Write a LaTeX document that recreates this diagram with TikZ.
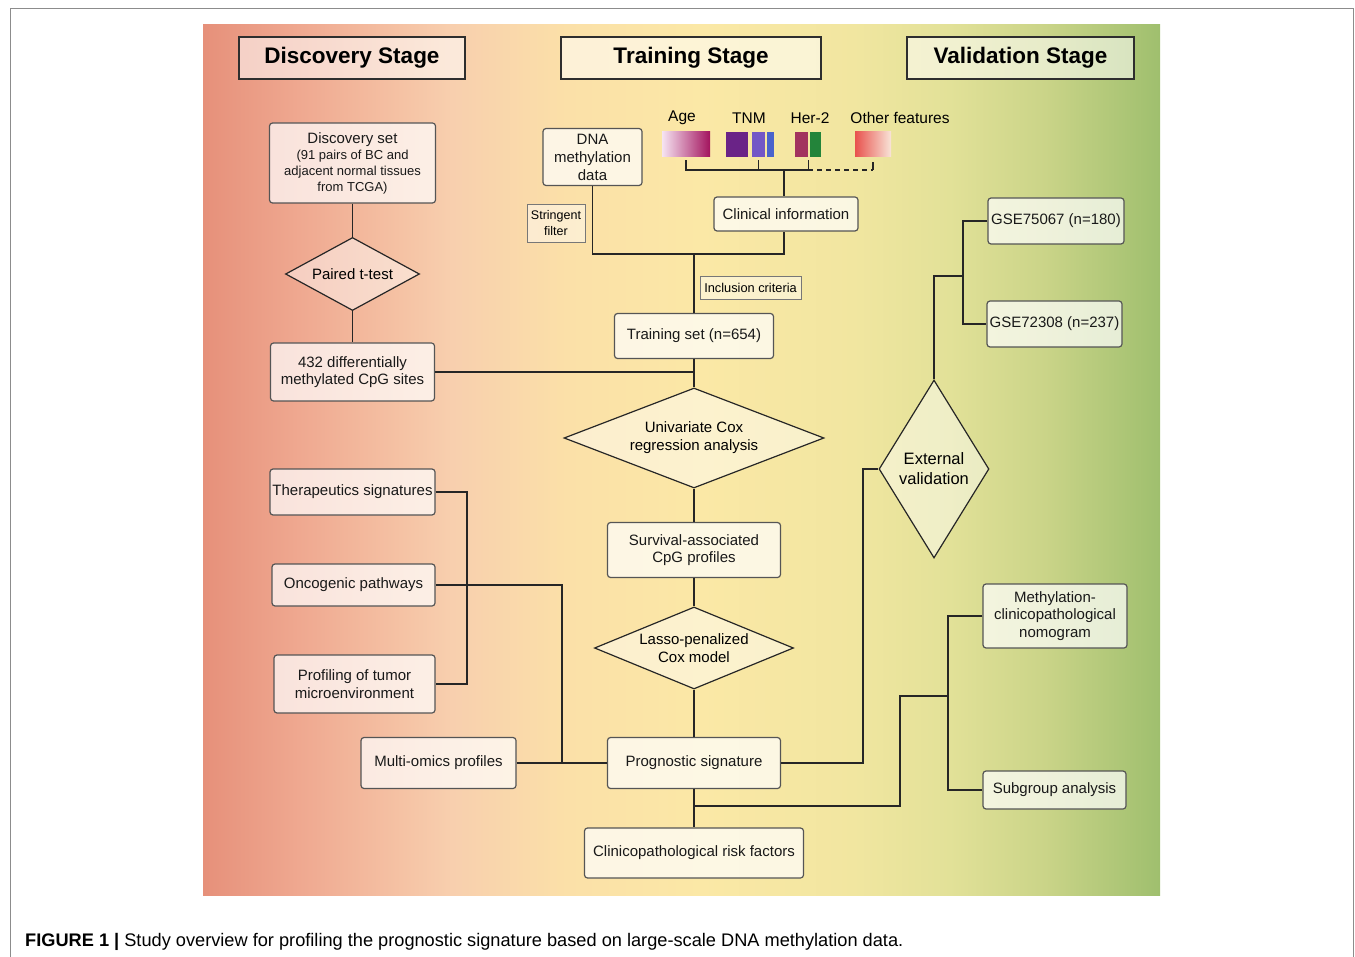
\documentclass[tikz,border=0pt]{standalone}
\usepackage{fontspec}
\setmainfont{Liberation Sans}
\usetikzlibrary{positioning, shapes.geometric}
\definecolor{clrLine}{HTML}{262626}
\definecolor{clrBorder}{HTML}{555555}
\definecolor{clrHead}{HTML}{2E2E2E}
\definecolor{clrFrame}{HTML}{8C8C8C}
\definecolor{bgA}{HTML}{E6907A}
\definecolor{bgB}{HTML}{EFA890}
\definecolor{bgC}{HTML}{F8CFAE}
\definecolor{bgD}{HTML}{FBE0A8}
\definecolor{bgE}{HTML}{FBE8A6}
\definecolor{bgF}{HTML}{F1E6A0}
\definecolor{bgG}{HTML}{E2E198}
\definecolor{bgH}{HTML}{CAD488}
\definecolor{bgI}{HTML}{9FBF6E}
\definecolor{clrAgeA}{HTML}{F6E4F2}
\definecolor{clrAgeB}{HTML}{A3145E}
\definecolor{clrTnmA}{HTML}{6A2387}
\definecolor{clrTnmB}{HTML}{7357C6}
\definecolor{clrTnmC}{HTML}{4A63CC}
\definecolor{clrHerA}{HTML}{A2335E}
\definecolor{clrHerB}{HTML}{23843A}
\definecolor{clrOtherA}{HTML}{E8524D}
\definecolor{clrOtherB}{HTML}{F8E4D8}
\pgfdeclarehorizontalshading{stagebg}{100bp}{color(0bp)=(bgA); color(25bp)=(bgA);
  color(30bp)=(bgB); color(38bp)=(bgC); color(44bp)=(bgD); color(51bp)=(bgE);
  color(59bp)=(bgF); color(64bp)=(bgG); color(69bp)=(bgH); color(75bp)=(bgI);
  color(100bp)=(bgI)}

\begin{document}
\begin{tikzpicture}[
  x=1pt, y=-1pt,
  stage/.style = {
    rectangle,
    draw=clrHead,
    line width=2pt,
    fill=white, fill opacity=0.55, text opacity=1,
    minimum height=42,
    font=\bfseries\fontsize{22.5}{26}\selectfont
  },
  box/.style = {
    rectangle,
    rounded corners=3pt,
    draw=clrBorder,
    line width=1.2pt,
    fill=white, fill opacity=0.7, text opacity=1,
    align=center,
    inner sep=1pt,
    text=black!90,
    font=\fontsize{15}{17.5}\selectfont
  },
  note/.style = {
    rectangle,
    draw=clrBorder!80,
    line width=0.8pt,
    fill=white, fill opacity=0.45, text opacity=1,
    align=center,
    inner sep=1pt,
    font=\fontsize{12.8}{15}\selectfont
  },
  decision/.style = {
    diamond,
    draw=clrLine,
    line width=1.2pt,
    fill=white, fill opacity=0.45, text opacity=1,
    align=center,
    inner sep=0pt,
    font=\fontsize{15}{18}\selectfont
  },
  bar/.style = {
    rectangle,
    inner sep=0pt,
    minimum height=25
  },
  tag/.style = {
    inner sep=0pt,
    font=\fontsize{15.5}{17}\selectfont
  },
  link/.style = {
    draw=clrLine,
    line width=1.4pt
  }
]
\useasboundingbox (0,0) rectangle (1355,957);

% ── frame and background ─────────────────────────────────────────────────────
\draw[clrFrame, line width=0.8pt] (10,957) -- (10,8) -- (1353,8) -- (1353,957);
\shade[shading=stagebg] (203,25) rectangle (1160,895);

% ── stage headers ────────────────────────────────────────────────────────────
\node[stage, minimum width=226] (discH)  at (352,58)    {Discovery Stage};
\node[stage, minimum width=260] (trainH) at (691,58)    {Training Stage};
\node[stage, minimum width=227] (validH) at (1020.5,58) {Validation Stage};

% ── discovery stage ──────────────────────────────────────────────────────────
\node[box, minimum width=166, minimum height=80, font=\fontsize{15}{16}\selectfont] (discset) at (352.5,163)
  {Discovery set\\
   \fontsize{13}{16}\selectfont (91 pairs of BC and\\
   \fontsize{13}{16}\selectfont adjacent normal tissues\\
   \fontsize{13}{16}\selectfont from TCGA)};
\node[decision, aspect=1.8, minimum width=134, minimum height=73] (ttest) at (352.5,274)
  {Paired t-test};
\node[box, minimum width=164, minimum height=58] (cpg) at (352.5,372)
  {432 differentially\\methylated CpG sites};

\node[box, minimum width=165, minimum height=46] (thera) at (352.5,492) {Therapeutics signatures};
\node[box, minimum width=163, minimum height=42] (onco)  at (353.5,585) {Oncogenic pathways};
\node[box, minimum width=161, minimum height=58] (prof)  at (354.5,684)
  {Profiling of tumor\\microenvironment};
\node[box, minimum width=155, minimum height=51] (multi) at (438.5,763) {Multi-omics profiles};

% ── training stage ───────────────────────────────────────────────────────────
\node[box, minimum width=99, minimum height=57, font=\fontsize{15}{18}\selectfont] (dna) at (592.5,157)
  {DNA\\methylation\\data};
\node[note, minimum width=58, minimum height=38, font=\fontsize{12.5}{15.5}\selectfont] (filter) at (556,223)
  {Stringent\\filter};

\node[tag] (ageT)   at (682,118) {Age};
\node[tag] (tnmT)   at (749,118) {TNM};
\node[tag] (herT)   at (810,118) {Her-2};
\node[tag] (otherT) at (900,118) {Other features};

\node[bar, minimum width=48, left color=clrAgeA, right color=clrAgeB] (ageBar) at (686,144.5) {};
\node[bar, minimum width=22, fill=clrTnmA] (tnmA) at (737,144.5) {};
\node[bar, minimum width=13, fill=clrTnmB] (tnmB) at (758.5,144.5) {};
\node[bar, minimum width=7,  fill=clrTnmC] (tnmC) at (770.5,144.5) {};
\node[bar, minimum width=13, fill=clrHerA] (herA) at (801.5,144.5) {};
\node[bar, minimum width=11, fill=clrHerB] (herB) at (815.5,144.5) {};
\node[bar, minimum width=36, left color=clrOtherA, right color=clrOtherB] (otherBar) at (873,144.5) {};

\node[box, minimum width=144, minimum height=34] (clinical) at (786,214) {Clinical information};
\node[note, minimum width=101, minimum height=23] (incl) at (750.5,287.5) {Inclusion criteria};
\node[box, minimum width=159, minimum height=45] (train) at (694,336) {Training set (n=654)};

\node[decision, aspect=2.6, minimum width=260, minimum height=100] (unicox) at (694,438)
  {Univariate Cox\\regression analysis};
\node[box, minimum width=173, minimum height=55] (surv) at (694,550)
  {Survival-associated\\CpG profiles};
\node[decision, aspect=2.4, minimum width=199, minimum height=82] (lasso) at (694,648)
  {Lasso-penalized\\Cox model};
\node[box, minimum width=173, minimum height=51] (prog) at (694,763) {Prognostic signature};
\node[box, minimum width=219, minimum height=50] (risk) at (694,853) {Clinicopathological risk factors};

% ── validation stage ─────────────────────────────────────────────────────────
\node[decision, aspect=0.6, minimum width=110, minimum height=178, font=\fontsize{16.5}{20}\selectfont] (ext) at (934,469)
  {External\\validation};
\node[box, minimum width=136, minimum height=46] (gseA) at (1056,221)   {GSE75067 (n=180)};
\node[box, minimum width=135, minimum height=46] (gseB) at (1054.5,324) {GSE72308 (n=237)};
\node[box, minimum width=144, minimum height=64] (nomo) at (1055,616)
  {Methylation-\\clinicopathological\\nomogram};
\node[box, minimum width=143, minimum height=38] (sub) at (1054.5,790) {Subgroup analysis};

% ── junction points ──────────────────────────────────────────────────────────
\coordinate (brk)    at (784,170);
\coordinate (merge)  at (694,254);
\coordinate (busL)   at (467,0);
\coordinate (busM)   at (562,0);
\coordinate (busR)   at (863,0);
\coordinate (splitV) at (963,276);
\coordinate (busB)   at (694,806);
\coordinate (bendB)  at (900,696);
\coordinate (busN)   at (948,0);

% ── connectors ───────────────────────────────────────────────────────────────
\draw[link] (discset) -- (ttest);
\draw[link] (ttest) -- (cpg);
\draw[link] (cpg.east) -- (cpg.east -| train.south);

\draw[link] (ageBar.south) ++(0,3) |- (brk) -| ([yshift=-3pt]herA.south east);
\draw[link] ([yshift=-3pt]tnmB.south) -- (tnmB.south |- brk);
\draw[link, dashed, dash pattern=on 5pt off 4pt] (herA.south east |- brk) -- (otherBar.south |- brk);
\draw[link] (otherBar.south |- brk) -- ([yshift=-5pt]otherBar.south);
\draw[link] (brk) -- (brk |- clinical.north);

\draw[link] (dna.south) |- (merge) -| (brk |- clinical.south);
\draw[link] (merge) -- (train.north);
\draw[link] (train.south) -- (unicox.north);
\draw[link] (unicox.south) -- (surv.north);
\draw[link] (surv.south) -- (lasso.north);
\draw[link] (lasso.south) -- (prog.north);
\draw[link] (prog.south) -- (risk.north);

\draw[link] (thera.east) -- (thera.east -| busL) |- (prof.east);
\draw[link] (onco.east) -| (busM |- prog.west);
\draw[link] (multi.east) -- (prog.west);

\draw[link] (prog.east) -| (busR |- ext.west) -- (ext.west);
\draw[link] (ext.north) |- (splitV);
\draw[link] (gseA.west) -| (splitV |- gseB.west) -- (gseB.west);

\draw[link] (busB) -| (bendB) -- (bendB -| busN);
\draw[link] (nomo.west) -| (busN |- sub.west) -- (sub.west);

% ── caption ──────────────────────────────────────────────────────────────────
\node[anchor=west, inner sep=0pt, font=\fontsize{18.2}{21}\selectfont] (caption) at (25,942)
  {\textbf{FIGURE 1 |} Study overview for profiling the prognostic signature based on large-scale DNA methylation data.};
\end{tikzpicture}
\end{document}
